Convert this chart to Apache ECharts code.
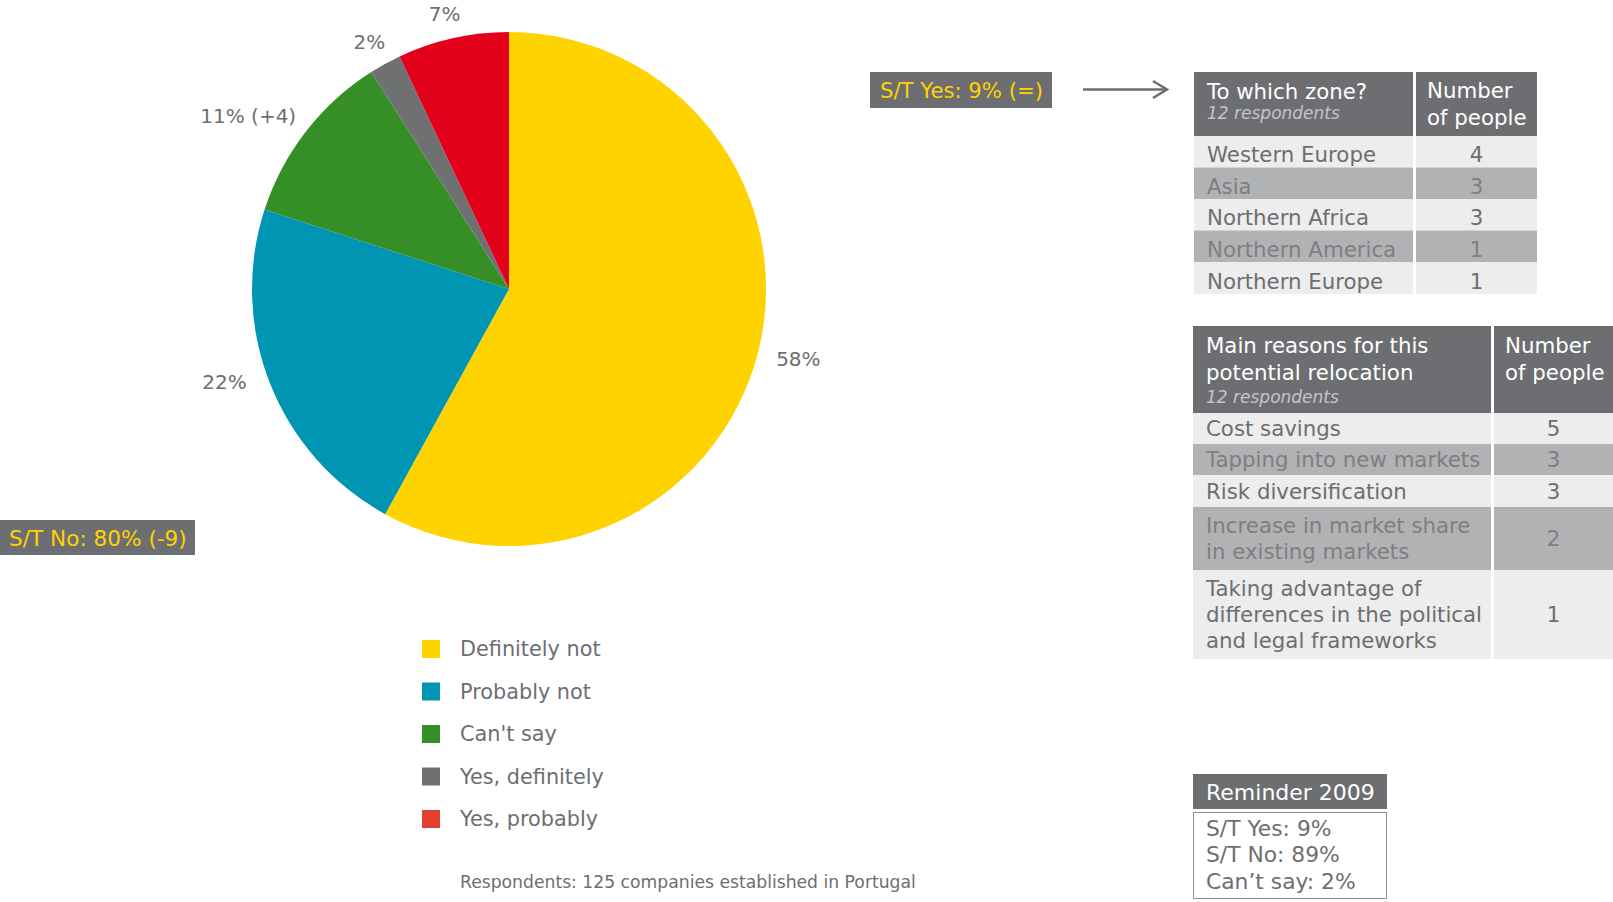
<!DOCTYPE html>
<html>
<head>
<meta charset="utf-8">
<script src="https://cdn.jsdelivr.net/npm/echarts@6/dist/echarts.min.js"></script>
<style>
html,body{margin:0;padding:0;background:#fff;}
#chart{width:1613px;height:902px;}
</style>
</head>
<body>
<div id="chart"></div>
<script>
// ---------- DATA ----------
const categories = ['Definitely not', 'Probably not', "Can't say", 'Yes, definitely', 'Yes, probably'];
const shares = [58, 22, 11, 2, 7];
const shareLabels = ['58%', '22%', '11% (+4)', '2%', '7%'];

const stNoText = 'S/T No: 80% (-9)';
const stYesText = 'S/T Yes: 9% (=)';

const zoneTitle = 'To which zone?';
const zoneSub = '12 respondents';
const zones = ['Western Europe', 'Asia', 'Northern Africa', 'Northern America', 'Northern Europe'];
const zoneCounts = [4, 3, 3, 1, 1];

const reasonTitle = 'Main reasons for this\npotential relocation';
const reasonSub = '12 respondents';
const reasons = ['Cost savings', 'Tapping into new markets', 'Risk diversification',
  'Increase in market share\nin existing markets',
  'Taking advantage of\ndifferences in the political\nand legal frameworks'];
const reasonCounts = [5, 3, 3, 2, 1];

const countHeader = 'Number\nof people';
const reminderTitle = 'Reminder 2009';
const reminderLines = ['S/T Yes: 9%', 'S/T No: 89%', 'Can\u2019t say: 2%'];
const footnote = 'Respondents: 125 companies established in Portugal';

// ---------- STYLE / LAYOUT ----------
const sliceColors = ['#ffd300', '#0095b3', '#368e27', '#6f7072', '#e2001a'];
const labelDx = [-6, 0, 10, 12, 13];   // small nudges of the outside labels
const labelDy = [0, -11, 0, 0, 0];
const FONT = '"DejaVu Sans", "Noto Sans", sans-serif';
const GREY = '#6d6e71';
const LIGHT = '#ecedec';
const DARK = '#b1b2b4';
const YELLOW = '#ffd200';
const TS = 21.3; // table font size

function txt(x, y, text, size, fill, extra) {
  return {
    type: 'text', x: x, y: y, silent: true,
    style: Object.assign({
      text: text, fill: fill, fontSize: size, fontFamily: FONT,
      textAlign: 'left', textVerticalAlign: 'middle', lineHeight: Math.round(size * 1.1)
    }, (extra || {}))
  };
}
function rect(x, y, w, h, fill, stroke) {
  return {
    type: 'rect', silent: true,
    shape: { x: x, y: y, width: w, height: h },
    style: stroke ? { fill: 'none', stroke: stroke, lineWidth: 1 } : { fill: fill }
  };
}

function buildTable(t) {
  const els = [];
  const c1w = t.split - t.x0;
  const c2x = t.split + 3;
  const c2w = t.x1 - c2x;
  els.push(rect(t.x0, t.y0, c1w, t.headH, GREY));
  els.push(rect(c2x, t.y0, c2w, t.headH, GREY));
  els.push(txt(t.x0 + 13, t.titleY, t.title, TS, '#ffffff', { lineHeight: 26.5 }));
  els.push(txt(t.x0 + 13, t.subY, t.sub, 17, '#c4c5c7', { fontStyle: 'italic' }));
  els.push(txt(c2x + 11, t.countHeadY, countHeader, TS, '#ffffff', { lineHeight: 26.5 }));
  let y = t.y0 + t.headH;
  t.labels.forEach(function (lab, i) {
    const h = t.rowH[i];
    const dark = i % 2 === 1;
    const bg = dark ? DARK : LIGHT;
    const fg = dark ? '#7e7f82' : GREY;
    els.push(rect(t.x0, y, c1w, h, bg));
    els.push(rect(c2x, y, c2w, h, bg));
    els.push(txt(t.x0 + 13, y + h / 2 + t.textOff, lab, TS, fg, { lineHeight: 26 }));
    els.push(txt(c2x + c2w / 2, y + h / 2 + t.textOff, String(t.counts[i]), TS, fg, { textAlign: 'center' }));
    y += h;
  });
  return els;
}

const graphics = [];
// S/T No box
graphics.push(rect(0, 520, 195, 35, GREY));
graphics.push(txt(9, 538, stNoText, 21.6, YELLOW));
// S/T Yes box
graphics.push(rect(870, 72, 182, 36, GREY));
graphics.push(txt(880, 90, stYesText, 21.2, YELLOW));
// arrow
graphics.push({ type: 'line', silent: true, shape: { x1: 1083, y1: 89.5, x2: 1166, y2: 89.5 }, style: { stroke: GREY, lineWidth: 2.5 } });
graphics.push({ type: 'polyline', silent: true, shape: { points: [[1153, 81], [1167, 89.5], [1153, 98]] }, style: { stroke: GREY, lineWidth: 2.5, fill: 'none' } });

// zone table
buildTable({
  x0: 1194, split: 1413, x1: 1537, y0: 72, headH: 64, textOff: 3,
  title: zoneTitle, titleY: 91, sub: zoneSub, subY: 113, countHeadY: 104,
  labels: zones, counts: zoneCounts, rowH: [31.5, 31.5, 31.5, 31.5, 32]
}).forEach(function (e) { graphics.push(e); });

// reasons table
buildTable({
  x0: 1193, split: 1491, x1: 1613, y0: 326, headH: 87, textOff: 0,
  title: reasonTitle, titleY: 359, sub: reasonSub, subY: 397, countHeadY: 359,
  labels: reasons, counts: reasonCounts, rowH: [31, 31, 32, 63, 89]
}).forEach(function (e) { graphics.push(e); });

// reminder box
graphics.push(rect(1193, 774, 194, 35, GREY));
graphics.push(txt(1206, 792, reminderTitle, 22, '#ffffff'));
graphics.push(rect(1193.5, 812.5, 193, 86, null, '#8c8d90'));
reminderLines.forEach(function (l, i) {
  graphics.push(txt(1206, 828 + i * 26.7, l, 21.8, GREY));
});
// footnote
graphics.push(txt(460, 882, footnote, 17.2, GREY));

// ---------- CHART ----------
const chart = echarts.init(document.getElementById('chart'), null, { renderer: 'svg' });
chart.setOption({
  animation: false,
  backgroundColor: '#ffffff',
  textStyle: { fontFamily: FONT },
  legend: {
    orient: 'vertical',
    left: 417,
    top: 632,
    icon: 'rect',
    itemWidth: 18,
    itemHeight: 18,
    itemGap: 18.5,
    selectedMode: false,
    data: categories.map(function (c, i) {
      return i === 4 ? { name: c, itemStyle: { color: '#e3412f' } } : { name: c };
    }),
    textStyle: { fontSize: 20.8, color: GREY, lineHeight: 24, padding: [0, 0, 0, 15], fontFamily: FONT }
  },
  series: [{
    type: 'pie',
    center: [509, 289],
    radius: [0, 257],
    startAngle: 90,
    clockwise: true,
    avoidLabelOverlap: false,
    silent: true,
    label: {
      show: true,
      position: 'outside',
      formatter: function (p) { return shareLabels[p.dataIndex]; },
      color: GREY,
      fontSize: 20,
      fontFamily: FONT,
      distanceToLabelLine: 0
    },
    labelLine: { show: false, length: 25, length2: 0 },
    labelLayout: function (p) {
      return { dx: labelDx[p.dataIndex], dy: labelDy[p.dataIndex] };
    },
    data: categories.map(function (c, i) {
      return {
        name: c, value: shares[i],
        itemStyle: { color: sliceColors[i] }
      };
    })
  }],
  graphic: graphics
});
</script>
</body>
</html>
